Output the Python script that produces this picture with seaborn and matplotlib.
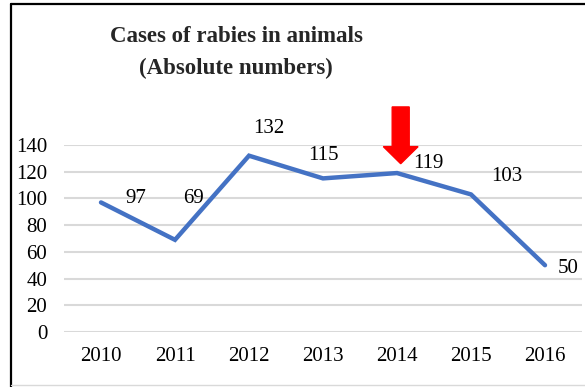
import matplotlib
matplotlib.use("Agg")
import matplotlib.pyplot as plt
from matplotlib.lines import Line2D
from matplotlib.patches import FancyArrow
import seaborn as sns
import pandas as pd

years = ["2010", "2011", "2012", "2013", "2014", "2015", "2016"]
cases = [97, 69, 132, 115, 119, 103, 50]
y_ticks = [0, 20, 40, 60, 80, 100, 120, 140]

# label offsets from each point, in pixels (dx right, dy up)
label_offsets = [(35, 4), (18, 41), (20, 27), (0, 23), (31, 10), (36, 18), (23, -3)]

sns.set_style("white")
plt.rcParams["font.family"] = ["Liberation Serif", "DejaVu Serif"]

df = pd.DataFrame({"year": years, "cases": cases})

fig = plt.figure(figsize=(5.85, 3.87), dpi=100)
ax = fig.add_axes([64 / 585, 1 - 332 / 387, (582 - 64) / 585, (332 - 145) / 387])

sns.lineplot(data=df, x="year", y="cases", ax=ax, color="#4472C4",
             linewidth=3.2, solid_capstyle="round", solid_joinstyle="miter", zorder=3)

ax.set_xlim(-0.5, len(years) - 0.5)
ax.set_ylim(0, 140)
ax.set_yticks(y_ticks)
ax.set_yticklabels([str(t) for t in y_ticks])
ax.yaxis.grid(True, color="#D9D9D9", linewidth=1.5)
ax.xaxis.grid(False)
for s in ax.spines.values():
    s.set_visible(False)
ax.tick_params(axis="both", length=0, labelsize=15, colors="black")
ax.tick_params(axis="x", pad=11)
ax.tick_params(axis="y", pad=12)
ax.set_xlabel("")
ax.set_ylabel("")

px = 72 / 100
for i, (v, (dx, dy)) in enumerate(zip(cases, label_offsets)):
    ax.annotate(str(v), (i, v), xytext=(dx * px, dy * px), textcoords="offset points",
                ha="center", va="center", fontsize=15, color="black", zorder=4)

# highlight arrow above 2014
arrow = FancyArrow(4.05, 168.5, 0, -42.5, width=0.23, head_width=0.47,
                   head_length=12.8, length_includes_head=True,
                   color="#FF0000", clip_on=False, zorder=5)
ax.add_patch(arrow)

fig.text(236 / 585, 1 - 37 / 387, "Cases of rabies in animals", ha="center", va="center",
         fontsize=16.5, fontweight="bold")
fig.text(236 / 585, 1 - 68 / 387, "(Absolute numbers)", ha="center", va="center",
         fontsize=16.5, fontweight="bold")

# frame lines
fig.add_artist(Line2D([11 / 585, 1], [1 - 4 / 387, 1 - 4 / 387], color="black", linewidth=1.6))
fig.add_artist(Line2D([11 / 585, 11 / 585], [0, 1 - 4 / 387], color="black", linewidth=1.6))
fig.add_artist(Line2D([11 / 585, 1], [2 / 387, 2 / 387], color="#D9D9D9", linewidth=1))

fig.savefig("out.png", dpi=100)
